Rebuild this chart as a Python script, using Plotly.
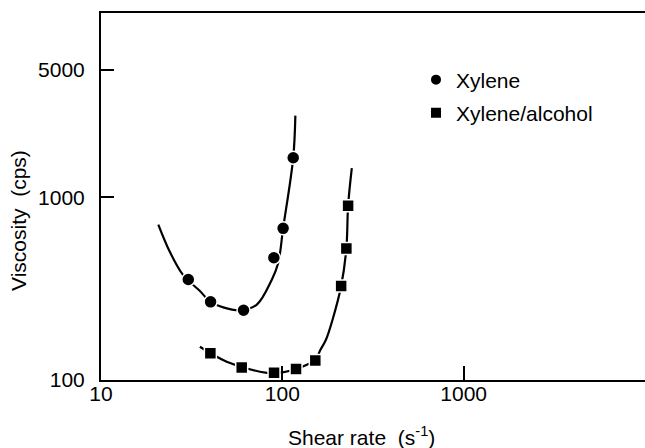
import plotly.graph_objects as go

# Measured points
xylene_x = [30.3, 40.2, 61.1, 89.8, 101, 114.8]
xylene_y = [355, 268, 241, 467, 677, 1648]
alcohol_x = [40.1, 59.7, 90, 119, 152, 211, 225.5, 230.5]
alcohol_y = [140, 117, 109.6, 115, 128, 327, 525, 899]

# Smooth fitted curves
xylene_curve_x = [20.7, 24.0, 28.4, 34.9, 40.2, 47.2, 58.3, 72.1, 87.1, 94.8, 101, 114.8, 118]
xylene_curve_y = [710, 502, 375, 309, 268, 250, 241, 258, 351, 436, 677, 1648, 2806]
alcohol_curve_x = [35.1, 49.3, 75.2, 91, 114.8, 136, 152, 162, 174, 189, 211, 225.5, 230.5, 241.6]
alcohol_curve_y = [152, 126, 111, 109, 113.4, 121, 128, 146, 166, 213, 327, 525, 899, 1445]

x_ticks = [10, 100, 1000]
y_ticks = [100, 1000, 5000]

FONT = "Liberation Sans, Arial, sans-serif"
FS = 21

fig = go.Figure()
fig.add_trace(go.Scatter(x=xylene_curve_x, y=xylene_curve_y, mode="lines",
                         line=dict(color="black", width=2.2, shape="spline", smoothing=1.0),
                         showlegend=False, hoverinfo="skip"))
fig.add_trace(go.Scatter(x=alcohol_curve_x, y=alcohol_curve_y, mode="lines",
                         line=dict(color="black", width=2.2, shape="spline", smoothing=1.0),
                         showlegend=False, hoverinfo="skip"))
fig.add_trace(go.Scatter(x=xylene_x, y=xylene_y, mode="markers", name="Xylene",
                         marker=dict(symbol="circle", size=13, color="black",
                                     line=dict(color="white", width=1.5)),
                         legend="legend"))
fig.add_trace(go.Scatter(x=alcohol_x, y=alcohol_y, mode="markers", name="Xylene/alcohol",
                         marker=dict(symbol="square", size=12, color="black",
                                     line=dict(color="white", width=1.5)),
                         legend="legend2"))

L, R, T, B = 101, 0, 13, 68
W, H = 645, 448
pw = W - L - R
ph = H - T - B

def px_x(p):
    return (p - L) / pw

def px_y(p):
    return (H - B - p) / ph

fig.update_layout(
    width=W, height=H,
    margin=dict(l=L, r=R, t=T, b=B),
    paper_bgcolor="white", plot_bgcolor="white",
    font=dict(family=FONT, size=FS, color="black"),
    legend=dict(x=px_x(416), y=px_y(80), xanchor="left", yanchor="middle",
                bgcolor="rgba(0,0,0,0)", font=dict(size=FS), itemsizing="constant"),
    legend2=dict(x=px_x(416), y=px_y(113), xanchor="left", yanchor="middle",
                 bgcolor="rgba(0,0,0,0)", font=dict(size=FS), itemsizing="constant"),
    xaxis=dict(type="log", range=[1, 4], showgrid=False, zeroline=False,
               showline=True, linecolor="black", linewidth=2, mirror=True,
               ticks="inside", ticklen=14, tickwidth=1.5, tickcolor="black",
               tickvals=x_ticks, ticktext=[str(v) for v in x_ticks],
               tickfont=dict(family=FONT, size=FS), ticklabelstandoff=-6),
    yaxis=dict(type="log", range=[2, 4.01], showgrid=False, zeroline=False,
               showline=True, linecolor="black", linewidth=2, mirror=False,
               ticks="inside", ticklen=13, tickwidth=1.5, tickcolor="black",
               tickvals=y_ticks, ticktext=[str(v) for v in y_ticks],
               tickfont=dict(family=FONT, size=FS), ticklabelstandoff=10),
    annotations=[
        dict(text="Viscosity  (cps)", xref="paper", yref="paper",
             x=px_x(19), y=px_y(221), xanchor="center", yanchor="middle",
             textangle=-90, showarrow=False, font=dict(family=FONT, size=FS)),
        dict(text="Shear rate  (s<sup>-1</sup>)", xref="paper", yref="paper",
             x=px_x(361), y=px_y(436), xanchor="center", yanchor="middle",
             showarrow=False, font=dict(family=FONT, size=FS)),
    ],
)

fig.write_html("out.html")
